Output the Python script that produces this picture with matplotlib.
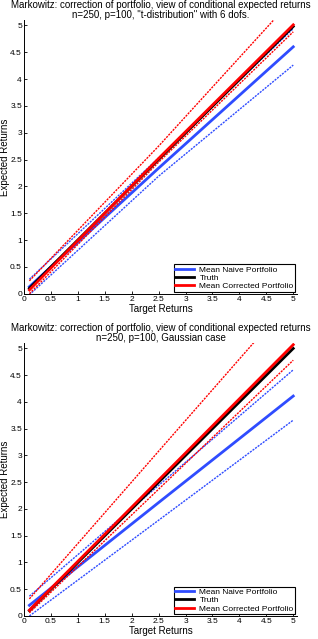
import matplotlib
matplotlib.use("Agg")
import matplotlib.pyplot as plt
from matplotlib.lines import Line2D

plt.rcParams['font.family'] = ['Liberation Sans', 'DejaVu Sans']

# ---- data ----
x_pts = [0.1, 2.5, 5.0]

# top panel: t-distribution with 6 dofs
t_naive_mean = [0.13, 2.34, 4.60]
t_naive_up = [0.27, 2.53, 4.94]
t_naive_lo = [-0.02, 2.19, 4.26]
t_truth = [0.10, 2.50, 4.98]
t_corr_mean = [0.07, 2.52, 5.01]
t_corr_up = [0.24, 2.75, 5.50]
t_corr_lo = [0.00, 2.45, 4.88]

# bottom panel: Gaussian case
g_naive_mean = [0.20, 2.12, 4.11]
g_naive_up = [0.37, 2.44, 4.60]
g_naive_lo = [0.00, 1.79, 3.66]
g_truth = [0.10, 2.50, 5.00]
g_corr_mean = [0.11, 2.54, 5.07]
g_corr_up = [0.32, 3.08, 5.95]
g_corr_lo = [0.06, 2.37, 4.78]

titles = [
    'Markowitz: correction of portfolio, view of conditional expected returns\nn=250, p=100, "t-distribution" with 6 dofs.',
    'Markowitz: correction of portfolio, view of conditional expected returns\nn=250, p=100, Gaussian case',
]
legend_labels = ['Mean Naive Portfolio', 'Truth', 'Mean Corrected Portfolio']
xticks = [0, 0.5, 1, 1.5, 2, 2.5, 3, 3.5, 4, 4.5, 5]
xticklabels = ['0', '0.5', '1', '1.5', '2', '2.5', '3', '3.5', '4', '4.5', '5']

BLUE = '#2f4cff'
RED = '#ff0000'
BLACK = '#000000'

fig = plt.figure(figsize=(3.18, 6.39), dpi=100)
axes_pos = [
    [0.0755, 0.5404, 0.8585, 0.4283],
    [0.0755, 0.0360, 0.8585, 0.4271],
]
panels = [
    (t_naive_mean, t_naive_up, t_naive_lo, t_truth, t_corr_mean, t_corr_up, t_corr_lo),
    (g_naive_mean, g_naive_up, g_naive_lo, g_truth, g_corr_mean, g_corr_up, g_corr_lo),
]

for pos, data, title in zip(axes_pos, panels, titles):
    nm, nu, nl, tr, cm, cu, cl = data
    ax = fig.add_axes(pos)
    ax.plot(x_pts, nu, color=BLUE, lw=1.0, ls=(0, (1.5, 0.8)))
    ax.plot(x_pts, nl, color=BLUE, lw=1.0, ls=(0, (1.5, 0.8)))
    ax.plot(x_pts, nm, color=BLUE, lw=2.0)
    ax.plot(x_pts, tr, color=BLACK, lw=2.0)
    ax.plot(x_pts, cu, color=RED, lw=1.0, ls=(0, (1.5, 0.8)))
    ax.plot(x_pts, cl, color=RED, lw=1.0, ls=(0, (1.5, 0.8)))
    ax.plot(x_pts, cm, color=RED, lw=2.0)
    ax.set_xlim(0, 5.07)
    ax.set_ylim(0, 5.1)
    ax.set_xticks(xticks)
    ax.set_xticklabels(xticklabels)
    ax.set_yticks(xticks)
    ax.set_yticklabels(xticklabels)
    ax.tick_params(direction='in', length=2.5, width=0.6, labelsize=6, pad=1.5)
    for s in ['top', 'right']:
        ax.spines[s].set_visible(False)
    for s in ['left', 'bottom']:
        ax.spines[s].set_linewidth(0.7)
    ax.set_title(title, fontsize=7.0, pad=-2.5, linespacing=0.95)
    ax.set_xlabel('Target Returns', fontsize=7, labelpad=1)
    ax.set_ylabel('Expected Returns', fontsize=7)
    ax.yaxis.set_label_coords(-0.05, 0.5)
    handles = [Line2D([], [], color=BLUE, lw=2.0),
               Line2D([], [], color=BLACK, lw=2.0),
               Line2D([], [], color=RED, lw=2.0)]
    leg = ax.legend(handles, legend_labels, loc='lower right', fontsize=6,
                    fancybox=False, framealpha=1, edgecolor='black',
                    borderpad=0.2, labelspacing=0.05, handlelength=2.3,
                    handletextpad=0.6, borderaxespad=0.2)
    leg.get_frame().set_linewidth(0.8)

fig.savefig('out.png', dpi=100)
